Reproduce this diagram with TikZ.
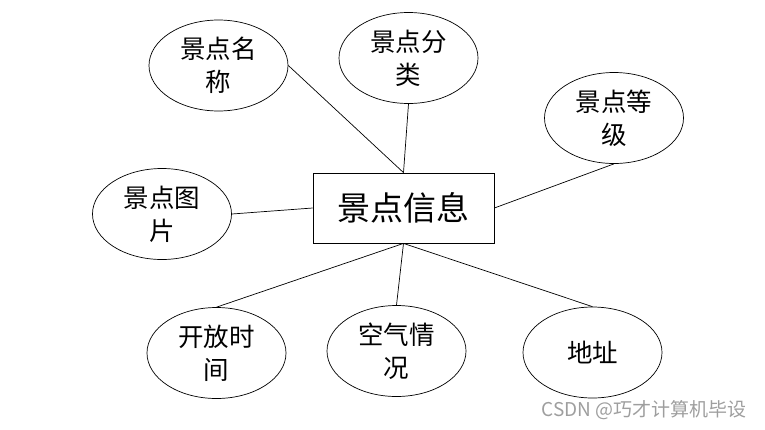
\documentclass[tikz,border=0pt]{standalone}
\usepackage{fontspec}
\newfontfamily\cjk{Noto Sans CJK SC}
\usetikzlibrary{shapes.geometric}
\begin{document}
\begin{tikzpicture}[x=1pt,y=-1pt,
  attr/.style={ellipse,draw,line width=0.7pt,minimum width=139pt,minimum height=91pt,inner sep=0pt,
    align=center,font=\cjk\fontsize{25.5}{33}\selectfont},
  ent/.style={rectangle,draw,line width=0.8pt,minimum width=181pt,minimum height=70pt,inner sep=0pt,
    font=\cjk\fontsize{33}{36}\selectfont},
  link/.style={line width=0.7pt}]
\useasboundingbox (0,0) rectangle (765,429);
\node[ent] (r) at (403.5,208) {景点信息};
\node[attr] (a1) at (218.5,65.5) {景点名\\称};
\node[attr] (a2) at (408.5,58) {景点分\\类};
\node[attr] (a3) at (614,118) {景点等\\级};
\node[attr] (a4) at (162,214) {景点图\\片};
\node[attr] (a5) at (216.5,353) {开放时\\间};
\node[attr] (a6) at (396.5,351) {空气情\\况};
\node[attr] (a7) at (592.5,352.5) {地址};
\draw[link] (a1.east) -- (r.north);
\draw[link] (a2.south) -- (r.north);
\draw[link] (a3.south) -- (r.east);
\draw[link] (a4.east) -- (r.west);
\draw[link] (r.south) -- (a5.north);
\draw[link] (r.south) -- (a6.north);
\draw[link] (r.south) -- (a7.north);
\node[font=\cjk\fontsize{19}{22}\selectfont,text=black!38,inner sep=0pt] (wm) at (644,410) {CSDN @巧才计算机毕设};
\end{tikzpicture}
\end{document}
